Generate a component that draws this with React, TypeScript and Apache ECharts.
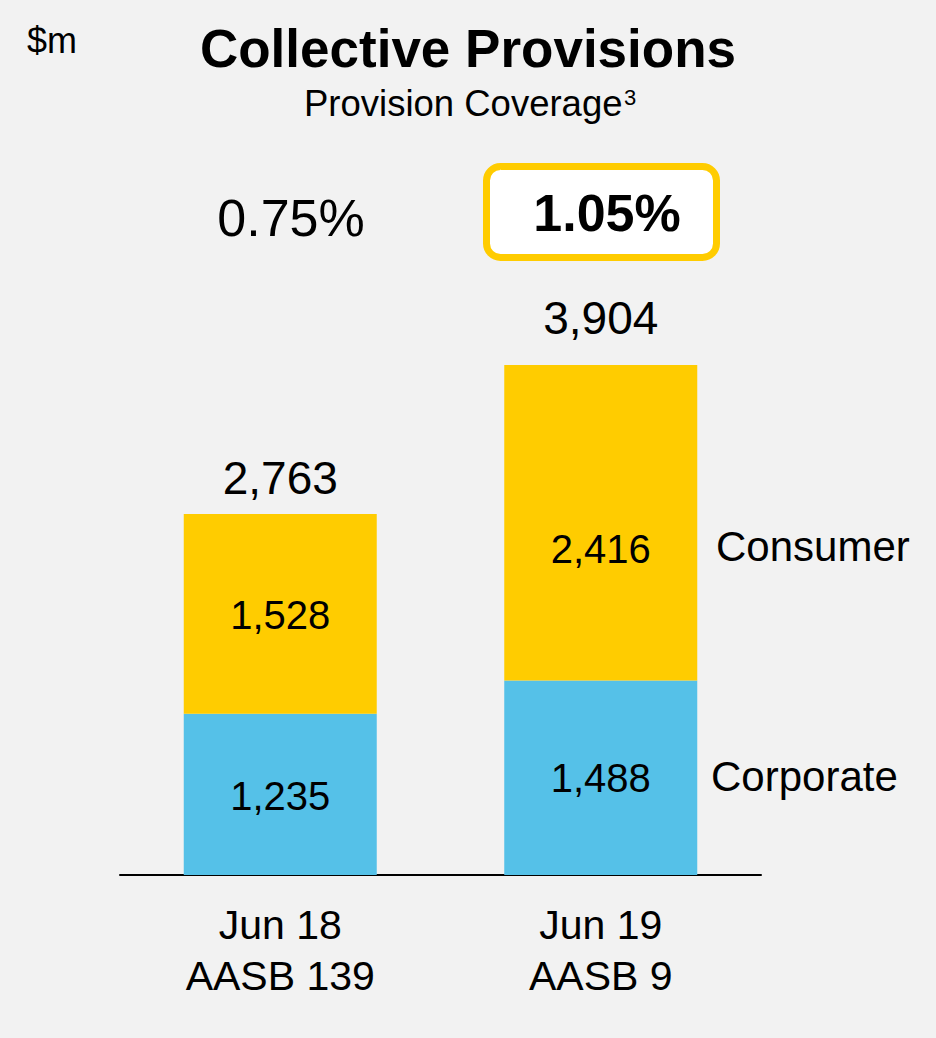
import React, { useEffect, useRef } from "react";
import * as echarts from "echarts";

const categories = ["Jun 18\nAASB 139", "Jun 19\nAASB 9"];
const corporate = [1235, 1488];
const consumer = [1528, 2416];
const totals = [2763, 3904];
const coverage = ["0.75%", "1.05%"];
const seriesNames = ["Corporate", "Consumer"];

const FONT = '"Liberation Sans", Arial, sans-serif';
const YELLOW = "#FFCC00";
const BLUE = "#55C1E8";

const fmt = (v: number) => v.toLocaleString("en-US");

export default function App() {
  const ref = useRef<HTMLDivElement>(null);
  useEffect(() => {
    document.body.style.margin = "0";
    if (!ref.current) return;
    const chart = echarts.init(ref.current, null, { renderer: "svg" });
    const segLabel = {
      show: true,
      position: "inside",
      color: "#000",
      fontFamily: FONT,
      fontSize: 40,
      formatter: (p: any) => fmt(p.value),
    };
    const option: any = {
      animation: false,
      backgroundColor: "#F2F2F2",
      grid: { left: 120, right: 175, top: 287, bottom: 163 },
      xAxis: {
        type: "category",
        data: categories,
        axisLine: { show: true, lineStyle: { color: "#000", width: 2 } },
        axisTick: { show: false },
        axisLabel: {
          color: "#000",
          fontFamily: FONT,
          fontSize: 41,
          lineHeight: 51,
          margin: 24,
        },
      },
      yAxis: { type: "value", min: 0, max: 4500, show: false },
      series: [
        {
          name: seriesNames[0],
          type: "bar",
          stack: "total",
          barWidth: 193,
          itemStyle: { color: BLUE },
          label: segLabel,
          data: corporate.map((v, i) => ({
            value: v,
            label: { offset: [0, i === 0 ? 2 : 0] },
          })),
        },
        {
          name: seriesNames[1],
          type: "bar",
          stack: "total",
          barWidth: 193,
          itemStyle: { color: YELLOW },
          label: segLabel,
          data: consumer.map((v, i) => ({
            value: v,
            label: { offset: [0, i === 1 ? 26 : 1] },
          })),
        },
        {
          name: "Total",
          type: "bar",
          stack: "total",
          barWidth: 193,
          itemStyle: { color: "transparent" },
          label: {
            show: true,
            position: "top",
            color: "#000",
            fontFamily: FONT,
            fontSize: 46,
            formatter: (p: any) => fmt(totals[p.dataIndex]),
          },
          data: totals.map((_, i) => ({
            value: 0,
            label: { distance: i === 0 ? 13 : 24 },
          })),
        },
      ],
      graphic: [
        {
          type: "text",
          x: 27,
          y: 40,
          style: {
            text: "$m",
            font: `36px ${FONT}`,
            fill: "#000",
            align: "left",
            verticalAlign: "middle",
          },
        },
        {
          type: "text",
          x: 468,
          y: 48,
          style: {
            text: "Collective Provisions",
            font: `bold 53px ${FONT}`,
            fill: "#000",
            align: "center",
            verticalAlign: "middle",
          },
        },
        {
          type: "text",
          x: 304,
          y: 103,
          style: {
            text: "Provision Coverage",
            font: `36.5px ${FONT}`,
            fill: "#000",
            align: "left",
            verticalAlign: "middle",
          },
        },
        {
          type: "text",
          x: 624,
          y: 97,
          style: {
            text: "3",
            font: `22px ${FONT}`,
            fill: "#000",
            align: "left",
            verticalAlign: "middle",
          },
        },
        {
          type: "text",
          x: 291,
          y: 218,
          style: {
            text: coverage[0],
            font: `52px ${FONT}`,
            fill: "#000",
            align: "center",
            verticalAlign: "middle",
          },
        },
        {
          type: "rect",
          shape: { x: 486.5, y: 166.5, width: 230, height: 91, r: 14 },
          style: { fill: "#FFFFFF", stroke: YELLOW, lineWidth: 7 },
        },
        {
          type: "text",
          x: 607,
          y: 213,
          style: {
            text: coverage[1],
            font: `bold 52px ${FONT}`,
            fill: "#000",
            align: "center",
            verticalAlign: "middle",
          },
        },
        {
          type: "text",
          x: 716,
          y: 546,
          style: {
            text: seriesNames[1],
            font: `42px ${FONT}`,
            fill: "#000",
            align: "left",
            verticalAlign: "middle",
          },
        },
        {
          type: "text",
          x: 711,
          y: 776,
          style: {
            text: seriesNames[0],
            font: `42px ${FONT}`,
            fill: "#000",
            align: "left",
            verticalAlign: "middle",
          },
        },
      ],
    };
    chart.setOption(option);
    return () => chart.dispose();
  }, []);
  return <div ref={ref} style={{ width: 936, height: 1038 }} />;
}
